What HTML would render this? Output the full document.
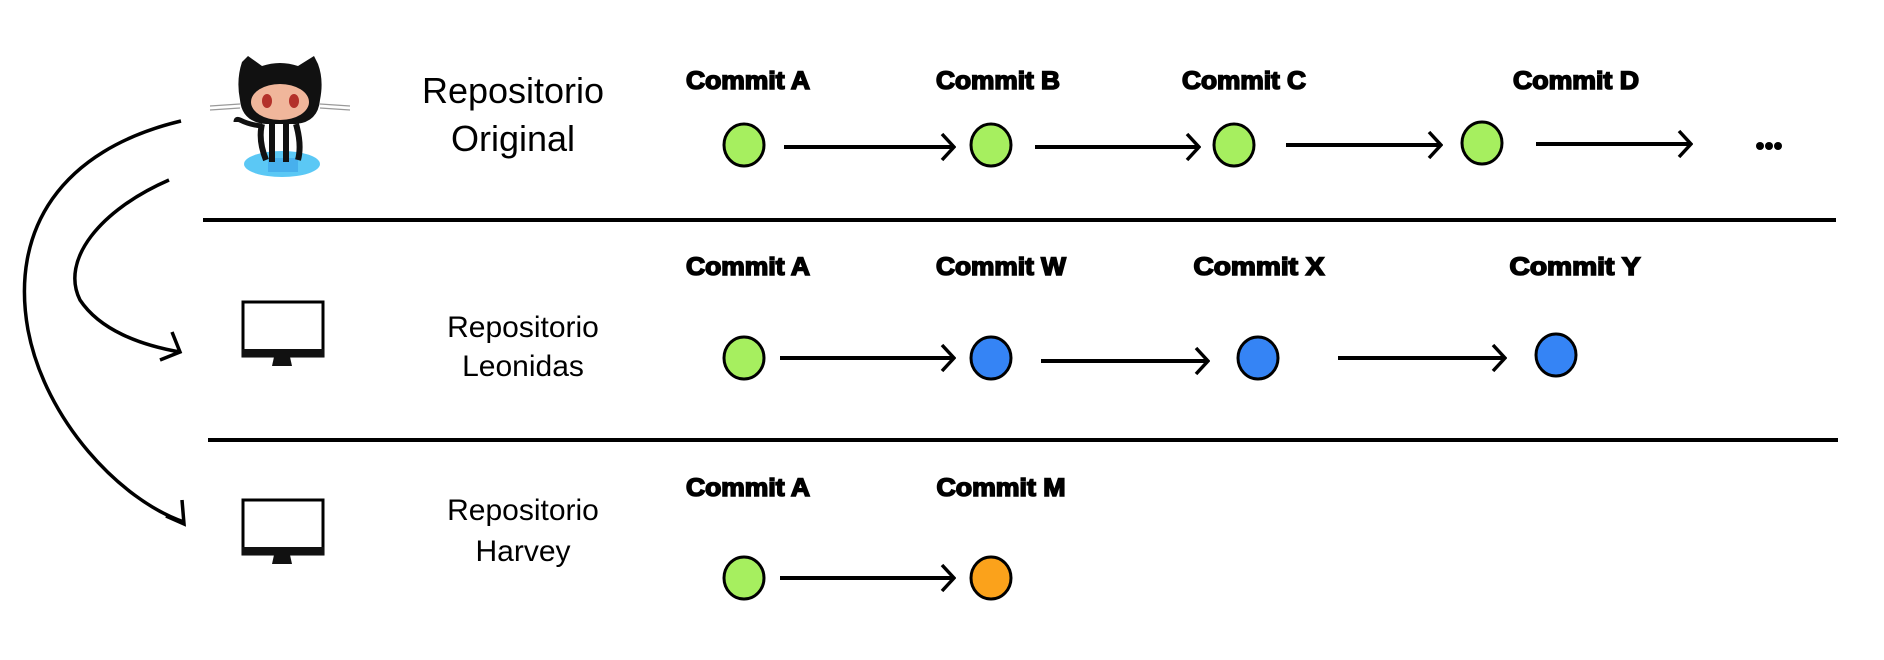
<!DOCTYPE html>
<html><head><meta charset="utf-8"><style>html,body{margin:0;padding:0;background:#fff}svg{display:block}</style></head><body>
<svg width="1884" height="660" viewBox="0 0 1884 660" xmlns="http://www.w3.org/2000/svg">
<defs>
<marker id="ah" markerWidth="16" markerHeight="30" refX="14" refY="15" orient="auto" markerUnits="userSpaceOnUse">
<path d="M2,2 L14,15 L2,28" fill="none" stroke="#000" stroke-width="3.5"/>
</marker>
</defs>
<rect width="1884" height="660" fill="#fff"/>
<line x1="203" y1="220" x2="1836" y2="220" stroke="#000" stroke-width="4"/>
<line x1="208" y1="440" x2="1838" y2="440" stroke="#000" stroke-width="4"/>

<path d="M181,121 C60,150 10,230 28,330 C45,420 120,500 184,522" fill="none" stroke="#000" stroke-width="3.5"/>
<path d="M166,516 L184,524 L182,500" fill="none" stroke="#000" stroke-width="3.5"/>
<path d="M169,180 C100,210 60,260 80,300 C100,330 140,345 180,352" fill="none" stroke="#000" stroke-width="3.5"/>
<path d="M160,360 L180,352 L172,332" fill="none" stroke="#000" stroke-width="3.5"/>

<g>
<ellipse cx="282" cy="164" rx="38" ry="13" fill="#5bc8f5"/>
<rect x="268" y="158" width="30" height="14" fill="#3aa0e8" opacity="0.6"/>
<path d="M242,62 L248,56 L262,66 Q280,60 298,66 L314,56 L318,64 Q324,80 320,100 Q318,122 296,124 L266,124 Q242,122 240,100 Q236,80 242,62Z" fill="#111"/>
<ellipse cx="280" cy="102" rx="29" ry="18" fill="#f0b69b"/>
<ellipse cx="267" cy="101" rx="5" ry="7" fill="#b3312a"/>
<ellipse cx="294" cy="101" rx="5" ry="7" fill="#b3312a"/>
<path d="M262,124 Q258,140 266,160 M272,124 L272,162 M286,124 L286,162 M296,124 Q302,145 298,160" stroke="#111" stroke-width="6" fill="none"/>
<path d="M262,126 Q250,125 240,120 Q236,118 236,122" stroke="#111" stroke-width="5" fill="none"/>
<path d="M210,106 L240,104 M210,110 L240,108 M320,104 L350,106 M320,108 L350,110" stroke="#999" stroke-width="1.2"/>
</g>

<g>
<rect x="243" y="302" width="80" height="54" fill="#fff" stroke="#000" stroke-width="3"/>
<rect x="242" y="349" width="82" height="8" fill="#111"/>
<path d="M274,357 L290,357 L292,366 L272,366Z" fill="#111"/>
<rect x="243" y="500" width="80" height="54" fill="#fff" stroke="#000" stroke-width="3"/>
<rect x="242" y="547" width="82" height="8" fill="#111"/>
<path d="M274,555 L290,555 L292,564 L272,564Z" fill="#111"/>
</g>

<g font-family="'Liberation Sans', sans-serif" fill="#000" text-anchor="middle">
<text x="513" y="103" font-size="36">Repositorio</text>
<text x="513" y="151" font-size="36">Original</text>
<text x="523" y="337" font-size="30">Repositorio</text>
<text x="523" y="376" font-size="30">Leonidas</text>
<text x="523" y="520" font-size="30">Repositorio</text>
<text x="523" y="561" font-size="30">Harvey</text>
</g>

<g font-family="'Liberation Sans', sans-serif" font-weight="bold" font-size="25" fill="#000" text-anchor="middle" stroke="#000" stroke-width="1.6">
<text x="748" y="89" textLength="124" lengthAdjust="spacingAndGlyphs">Commit A</text>
<text x="998" y="89" textLength="124" lengthAdjust="spacingAndGlyphs">Commit B</text>
<text x="1244" y="89" textLength="124" lengthAdjust="spacingAndGlyphs">Commit C</text>
<text x="1576" y="89" textLength="126" lengthAdjust="spacingAndGlyphs">Commit D</text>
<text x="748" y="275" textLength="124" lengthAdjust="spacingAndGlyphs">Commit A</text>
<text x="1001" y="275" textLength="130" lengthAdjust="spacingAndGlyphs">Commit W</text>
<text x="1259" y="275" textLength="131" lengthAdjust="spacingAndGlyphs">Commit  X</text>
<text x="1575" y="275" textLength="131" lengthAdjust="spacingAndGlyphs">Commit  Y</text>
<text x="748" y="496" textLength="124" lengthAdjust="spacingAndGlyphs">Commit A</text>
<text x="1001" y="496" textLength="129" lengthAdjust="spacingAndGlyphs">Commit M</text>
</g>

<g stroke="#000" stroke-width="4" marker-end="url(#ah)">
<line x1="784" y1="147" x2="954" y2="147"/>
<line x1="1035" y1="147" x2="1199" y2="147"/>
<line x1="1286" y1="145" x2="1441" y2="145"/>
<line x1="1536" y1="144" x2="1691" y2="144"/>
<line x1="780" y1="358" x2="954" y2="358"/>
<line x1="1041" y1="361" x2="1208" y2="361"/>
<line x1="1338" y1="358" x2="1505" y2="358"/>
<line x1="780" y1="578" x2="954" y2="578"/>
</g>

<g stroke="#000" stroke-width="3">
<ellipse cx="744" cy="145" rx="20" ry="21" fill="#a6ef5f"/>
<ellipse cx="991" cy="145" rx="20" ry="21" fill="#a6ef5f"/>
<ellipse cx="1234" cy="145" rx="20" ry="21" fill="#a6ef5f"/>
<ellipse cx="1482" cy="143" rx="20" ry="21" fill="#a6ef5f"/>
<ellipse cx="744" cy="358" rx="20" ry="21" fill="#a6ef5f"/>
<ellipse cx="991" cy="358" rx="20" ry="21" fill="#3584f5"/>
<ellipse cx="1258" cy="358" rx="20" ry="21" fill="#3584f5"/>
<ellipse cx="1556" cy="355" rx="20" ry="21" fill="#3584f5"/>
<ellipse cx="744" cy="578" rx="20" ry="21" fill="#a6ef5f"/>
<ellipse cx="991" cy="578" rx="20" ry="21" fill="#fba21b"/>
</g>
<g fill="#000">
<circle cx="1760" cy="146" r="4"/><circle cx="1769" cy="146" r="4"/><circle cx="1778" cy="146" r="4"/>
</g>
</svg>
</body></html>
